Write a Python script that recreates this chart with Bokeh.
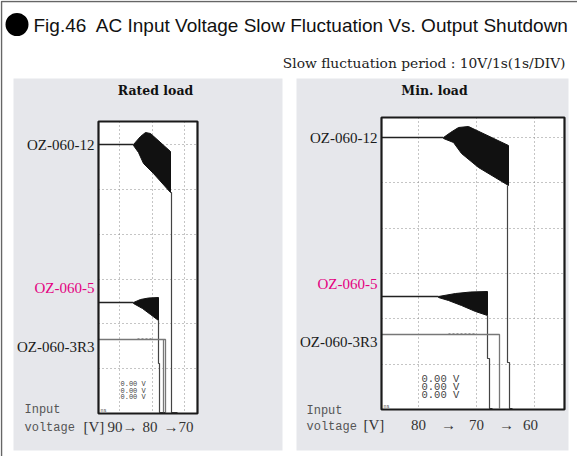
from bokeh.plotting import figure
from bokeh.models import Range1d
from bokeh.core.properties import value
from bokeh.embed import file_html
from bokeh.resources import INLINE

# ---------------- data (screen units of the scope picture) -------------
panel_titles = ["Rated load", "Min. load"]
model_names = ["OZ-060-12", "OZ-060-5", "OZ-060-3R3"]
left_voltage_ticks = ["90\u2192", "80", "\u219270"]
right_voltage_ticks = ["80", "\u2192", "70", "\u2192", "60"]
readout = ["0.00 V", "0.00 V", "0.00 V"]

# left scope (rated load) traces
L12_line_x = [98, 133]; L12_line_y = [144, 144]
L12_env_x = [133, 140, 145, 150, 170, 170, 153, 143, 138, 133]
L12_env_y = [144, 136, 132, 133, 151, 192, 173, 163, 152, 145]
L12_off_x = [170, 171, 171, 177]; L12_off_y = [192, 192, 412, 412]
L5_line_x = [98, 133]; L5_line_y = [302, 302]
L5_env_x = [133, 140, 148, 158, 158, 150, 142, 133]
L5_env_y = [302, 299, 297.5, 297, 320, 314, 308, 303]
L5_off_x = [158, 158, 159, 159, 165]; L5_off_y = [320, 363, 363, 412, 412]
L3_line_x = [98, 163, 163]; L3_line_y = [339, 339, 412]
L3_b_x = [163, 165, 165]; L3_b_y = [339, 339, 412]

# right scope (min. load) traces
R12_line_x = [381, 443]; R12_line_y = [137, 137]
R12_env_x = [443, 450, 458, 468, 508, 508, 478, 461, 453, 443]
R12_env_y = [137, 132, 127, 126, 145, 185, 167, 153, 142, 138]
R12_off_x = [507, 507, 509, 509, 512]; R12_off_y = [185, 362, 362, 408, 408]
R5_line_x = [381, 438]; R5_line_y = [296, 296]
R5_env_x = [438, 455, 470, 487, 487, 475, 461, 448, 438]
R5_env_y = [296, 293, 291.5, 291, 315, 311, 305, 300, 297]
R5_off_x = [487, 487, 489, 489, 492]; R5_off_y = [315, 358, 358, 408, 408]
R3_line_x = [381, 499, 499]; R3_line_y = [334, 334, 408]

# ---------------- figure ----------------
p = figure(width=577, height=456, x_range=Range1d(0, 577), y_range=Range1d(456, 0),
           output_backend="svg", toolbar_location=None, min_border=0)
p.axis.visible = False
p.grid.visible = False
p.outline_line_color = None
p.background_fill_color = "white"
p.border_fill_color = "white"

SERIF = value("Liberation Serif")
WSERIF = value("DejaVu Serif")
MONO = value("Liberation Mono")
SANS = value("Liberation Sans")

# outer frame (top and left edges)
p.line([1, 1, 577], [456, 1, 1], line_color="#666", line_width=1.5)

# title
p.circle(x=[16.5], y=[24], radius=11.5, fill_color="black", line_color=None)
p.text(x=[33], y=[25], text=["Fig.46\u00a0 AC Input Voltage Slow Fluctuation Vs. Output Shutdown"],
       text_font=SANS, text_font_size="19px", text_baseline="middle", text_align="left",
       text_color="#111")
p.text(x=[565], y=[62], text=["Slow fluctuation period : 10V/1s(1s/DIV)"],
       text_font=WSERIF, text_font_size="13.8px", text_baseline="middle", text_align="right",
       text_color="#222")

# gray panels
p.quad(left=[13, 296], right=[282, 568], top=[78, 78], bottom=[450, 450],
       fill_color="#e6e7eb", line_color=None)
p.text(x=[155, 434], y=[90, 90], text=panel_titles, text_font=WSERIF, text_font_size="12.5px",
       text_font_style="bold", text_baseline="middle", text_align="center", text_color="#111")

# scope screens
p.quad(left=[98, 381], right=[197, 564], top=[121, 117], bottom=[413, 409],
       fill_color="white", line_color=None)

grid_dash = "1 3"
p.multi_line(xs=[[119, 119], [152, 152], [184, 184]], ys=[[121, 413]] * 3,
             line_color="#8a8a8a", line_dash=grid_dash, line_width=1)
p.multi_line(xs=[[98, 197]] * 6, ys=[[y, y] for y in [144, 189, 234, 279, 323, 368]],
             line_color="#8a8a8a", line_dash=grid_dash, line_width=1)
p.multi_line(xs=[[418, 418], [476, 476], [534, 534]], ys=[[117, 409]] * 3,
             line_color="#8a8a8a", line_dash=grid_dash, line_width=1)
p.multi_line(xs=[[381, 564]] * 6, ys=[[y, y] for y in [137, 182, 228, 273, 318, 364]],
             line_color="#8a8a8a", line_dash=grid_dash, line_width=1)

# traces
for ex, ey in [(L12_env_x, L12_env_y), (L5_env_x, L5_env_y), (R12_env_x, R12_env_y), (R5_env_x, R5_env_y)]:
    p.patch(ex, ey, fill_color="#111", line_color="#111", line_width=1)
for lx, ly in [(L12_line_x, L12_line_y), (L5_line_x, L5_line_y), (R12_line_x, R12_line_y), (R5_line_x, R5_line_y)]:
    p.line(lx, ly, line_color="#222", line_width=1.5)
for lx, ly in [(L12_off_x, L12_off_y), (L5_off_x, L5_off_y), (R12_off_x, R12_off_y), (R5_off_x, R5_off_y)]:
    p.line(lx, ly, line_color="#444", line_width=1.2)
for lx, ly in [(L3_line_x, L3_line_y), (L3_b_x, L3_b_y), (R3_line_x, R3_line_y)]:
    p.line(lx, ly, line_color="#777", line_width=1.3)
p.line([137, 152], [338, 338], line_color="#999", line_width=1, line_dash="2 2")
p.line([448, 475], [333, 333], line_color="#999", line_width=1, line_dash="2 2")

# screen borders
p.quad(left=[98, 381], right=[197, 564], top=[121, 117], bottom=[413, 409],
       fill_color=None, line_color="#1a1a1a", line_width=2.2)

# readouts
p.text(x=[120] * 3, y=[383, 390, 396], text=readout, text_font=MONO, text_font_size="7px",
       text_baseline="middle", text_align="left", text_color="#444")
p.text(x=[421] * 3, y=[378, 386, 394], text=readout, text_font=MONO, text_font_size="10.5px",
       text_baseline="middle", text_align="left", text_color="#444")
p.text(x=[100, 383], y=[410, 406], text=["ns", "ns"], text_font=MONO, text_font_size="5px",
       text_baseline="middle", text_align="left", text_color="#444")

# model labels
label_colors = ["#1a1a1a", "#e4007f", "#1a1a1a"]
p.text(x=[94] * 3, y=[144, 287, 346], text=model_names, text_font=SERIF, text_font_size="15px",
       text_baseline="middle", text_align="right", text_color=label_colors)
p.text(x=[377] * 3, y=[137, 283, 341], text=model_names, text_font=SERIF, text_font_size="15px",
       text_baseline="middle", text_align="right", text_color=label_colors)

# input voltage axis captions
p.text(x=[24, 24, 306, 306], y=[409, 427, 410, 426], text=["Input", "voltage", "Input", "voltage"],
       text_font=MONO, text_font_size="12px", text_baseline="middle", text_align="left",
       text_color="#555")
p.text(x=[83, 363], y=[426, 424], text=["[V]", "[V]"], text_font=SERIF, text_font_size="15px",
       text_baseline="middle", text_align="left", text_color="#333")
p.text(x=[107, 142, 163], y=[426] * 3, text=left_voltage_ticks, text_font=SERIF,
       text_font_size="15px", text_baseline="middle", text_align="left", text_color="#333")
p.text(x=[418, 448, 476, 506, 530], y=[424] * 5, text=right_voltage_ticks, text_font=SERIF,
       text_font_size="15px", text_baseline="middle", text_align="center", text_color="#333")

open("out.html", "w").write(file_html(p, INLINE))
